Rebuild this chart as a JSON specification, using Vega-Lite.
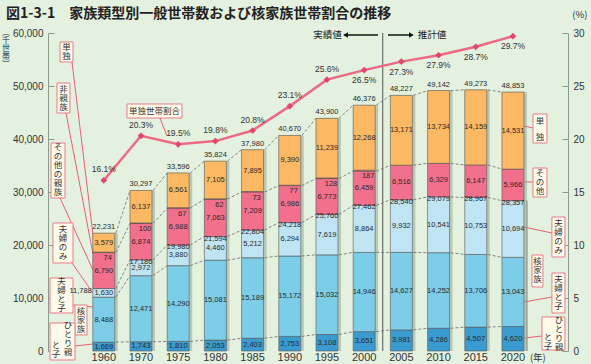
{
  "$schema": "https://vega.github.io/schema/vega-lite/v6.json",
  "width": 520,
  "height": 318,
  "autosize": {"type": "none"},
  "padding": {"left": 48, "top": 33, "right": 23, "bottom": 13},
  "background": "#e3f1de",
  "config": {"view": {"stroke": null}, "font": "Liberation Sans, Noto Sans CJK JP", "scale": {"continuousPadding": 0}},
  "title": {"text": "図1-3-1　家族類型別一般世帯数および核家族世帯割合の推移", "anchor": "start", "frame": "group", "dx": -42, "offset": -18, "baseline": "middle", "fontSize": 14, "fontWeight": "bold", "font": "Noto Sans CJK JP", "color": "#222"},
  "datasets": {
    "seg": [
      {"idx": 0, "type": "ひとり親と子", "ord": 1, "value": 1669},
      {"idx": 0, "type": "夫婦と子", "ord": 2, "value": 8488},
      {"idx": 0, "type": "夫婦のみ", "ord": 3, "value": 1630},
      {"idx": 0, "type": "その他の親族", "ord": 4, "value": 6790},
      {"idx": 0, "type": "非親族", "ord": 5, "value": 74},
      {"idx": 0, "type": "単独", "ord": 6, "value": 3579},
      {"idx": 1, "type": "ひとり親と子", "ord": 1, "value": 1743},
      {"idx": 1, "type": "夫婦と子", "ord": 2, "value": 12471},
      {"idx": 1, "type": "夫婦のみ", "ord": 3, "value": 2972},
      {"idx": 1, "type": "その他の親族", "ord": 4, "value": 6874},
      {"idx": 1, "type": "非親族", "ord": 5, "value": 100},
      {"idx": 1, "type": "単独", "ord": 6, "value": 6137},
      {"idx": 2, "type": "ひとり親と子", "ord": 1, "value": 1810},
      {"idx": 2, "type": "夫婦と子", "ord": 2, "value": 14290},
      {"idx": 2, "type": "夫婦のみ", "ord": 3, "value": 3880},
      {"idx": 2, "type": "その他の親族", "ord": 4, "value": 6988},
      {"idx": 2, "type": "非親族", "ord": 5, "value": 67},
      {"idx": 2, "type": "単独", "ord": 6, "value": 6561},
      {"idx": 3, "type": "ひとり親と子", "ord": 1, "value": 2053},
      {"idx": 3, "type": "夫婦と子", "ord": 2, "value": 15081},
      {"idx": 3, "type": "夫婦のみ", "ord": 3, "value": 4460},
      {"idx": 3, "type": "その他の親族", "ord": 4, "value": 7063},
      {"idx": 3, "type": "非親族", "ord": 5, "value": 62},
      {"idx": 3, "type": "単独", "ord": 6, "value": 7105},
      {"idx": 4, "type": "ひとり親と子", "ord": 1, "value": 2403},
      {"idx": 4, "type": "夫婦と子", "ord": 2, "value": 15189},
      {"idx": 4, "type": "夫婦のみ", "ord": 3, "value": 5212},
      {"idx": 4, "type": "その他の親族", "ord": 4, "value": 7209},
      {"idx": 4, "type": "非親族", "ord": 5, "value": 73},
      {"idx": 4, "type": "単独", "ord": 6, "value": 7895},
      {"idx": 5, "type": "ひとり親と子", "ord": 1, "value": 2753},
      {"idx": 5, "type": "夫婦と子", "ord": 2, "value": 15172},
      {"idx": 5, "type": "夫婦のみ", "ord": 3, "value": 6294},
      {"idx": 5, "type": "その他の親族", "ord": 4, "value": 6986},
      {"idx": 5, "type": "非親族", "ord": 5, "value": 77},
      {"idx": 5, "type": "単独", "ord": 6, "value": 9390},
      {"idx": 6, "type": "ひとり親と子", "ord": 1, "value": 3108},
      {"idx": 6, "type": "夫婦と子", "ord": 2, "value": 15032},
      {"idx": 6, "type": "夫婦のみ", "ord": 3, "value": 7619},
      {"idx": 6, "type": "その他の親族", "ord": 4, "value": 6773},
      {"idx": 6, "type": "非親族", "ord": 5, "value": 128},
      {"idx": 6, "type": "単独", "ord": 6, "value": 11239},
      {"idx": 7, "type": "ひとり親と子", "ord": 1, "value": 3651},
      {"idx": 7, "type": "夫婦と子", "ord": 2, "value": 14946},
      {"idx": 7, "type": "夫婦のみ", "ord": 3, "value": 8864},
      {"idx": 7, "type": "その他の親族", "ord": 4, "value": 6459},
      {"idx": 7, "type": "非親族", "ord": 5, "value": 187},
      {"idx": 7, "type": "単独", "ord": 6, "value": 12268},
      {"idx": 8, "type": "ひとり親と子", "ord": 1, "value": 3981},
      {"idx": 8, "type": "夫婦と子", "ord": 2, "value": 14627},
      {"idx": 8, "type": "夫婦のみ", "ord": 3, "value": 9932},
      {"idx": 8, "type": "その他の親族", "ord": 4, "value": 6516},
      {"idx": 8, "type": "単独", "ord": 6, "value": 13171},
      {"idx": 9, "type": "ひとり親と子", "ord": 1, "value": 4286},
      {"idx": 9, "type": "夫婦と子", "ord": 2, "value": 14252},
      {"idx": 9, "type": "夫婦のみ", "ord": 3, "value": 10541},
      {"idx": 9, "type": "その他の親族", "ord": 4, "value": 6329},
      {"idx": 9, "type": "単独", "ord": 6, "value": 13734},
      {"idx": 10, "type": "ひとり親と子", "ord": 1, "value": 4507},
      {"idx": 10, "type": "夫婦と子", "ord": 2, "value": 13706},
      {"idx": 10, "type": "夫婦のみ", "ord": 3, "value": 10753},
      {"idx": 10, "type": "その他の親族", "ord": 4, "value": 6147},
      {"idx": 10, "type": "単独", "ord": 6, "value": 14159},
      {"idx": 11, "type": "ひとり親と子", "ord": 1, "value": 4620},
      {"idx": 11, "type": "夫婦と子", "ord": 2, "value": 13043},
      {"idx": 11, "type": "夫婦のみ", "ord": 3, "value": 10694},
      {"idx": 11, "type": "その他の親族", "ord": 4, "value": 5966},
      {"idx": 11, "type": "単独", "ord": 6, "value": 14531}
    ],
    "tot": [
      {"idx": 0, "year": "1960", "total": 22231, "nuclear": 11788, "pct": 16.1, "lab": "above"},
      {"idx": 1, "year": "1970", "total": 30297, "nuclear": 17186, "pct": 20.3, "lab": "above"},
      {"idx": 2, "year": "1975", "total": 33596, "nuclear": 19980, "pct": 19.5, "lab": "above"},
      {"idx": 3, "year": "1980", "total": 35824, "nuclear": 21594, "pct": 19.8, "lab": "above"},
      {"idx": 4, "year": "1985", "total": 37980, "nuclear": 22804, "pct": 20.8, "lab": "above"},
      {"idx": 5, "year": "1990", "total": 40670, "nuclear": 24218, "pct": 23.1, "lab": "above"},
      {"idx": 6, "year": "1995", "total": 43900, "nuclear": 25760, "pct": 25.6, "lab": "above"},
      {"idx": 7, "year": "2000", "total": 46376, "nuclear": 27462, "pct": 26.5, "lab": "below"},
      {"idx": 8, "year": "2005", "total": 48227, "nuclear": 28540, "pct": 27.3, "lab": "below"},
      {"idx": 9, "year": "2010", "total": 49142, "nuclear": 29079, "pct": 27.9, "lab": "below"},
      {"idx": 10, "year": "2015", "total": 49273, "nuclear": 28967, "pct": 28.7, "lab": "below"},
      {"idx": 11, "year": "2020", "total": 48853, "nuclear": 28357, "pct": 29.7, "lab": "below"}
    ],
    "boxes": [
      {"idx": -1.177, "idx2": -0.828, "v": 58302, "v2": 54528},
      {"idx": -1.258, "idx2": -0.909, "v": 50566, "v2": 44906},
      {"idx": -1.419, "idx2": -1.043, "v": 39245, "v2": 28868},
      {"idx": -1.366, "idx2": -0.828, "v": 24151, "v2": 16604},
      {"idx": -1.446, "idx2": -0.828, "v": 13774, "v2": 7170},
      {"idx": -0.774, "idx2": -0.452, "v": 8679, "v2": 3019},
      {"idx": -1.446, "idx2": -0.774, "v": 5283, "v2": -1698},
      {"idx": 11.538, "idx2": 11.914, "v": 44717, "v2": 39245},
      {"idx": 11.538, "idx2": 11.914, "v": 34528, "v2": 29057},
      {"idx": 12.048, "idx2": 12.398, "v": 25283, "v2": 17736},
      {"idx": 11.511, "idx2": 11.806, "v": 18113, "v2": 12075},
      {"idx": 12.048, "idx2": 12.398, "v": 14717, "v2": 7170},
      {"idx": 11.78, "idx2": 12.398, "v": 6415, "v2": 189},
      {"idx": 0.624, "idx2": 2.102, "v": 46604, "v2": 43962}
    ],
    "anntext": [
      {"idx": -1.003, "v": 58113, "text": "単\n独"},
      {"idx": -1.083, "v": 50283, "text": "非\n親\n族"},
      {"idx": -1.231, "v": 39151, "text": "そ\nの\n他\nの\n親\n族"},
      {"idx": -1.097, "v": 23774, "text": "夫\n婦\nの\nみ"},
      {"idx": -1.137, "v": 13868, "text": "夫\n婦\nと\n子"},
      {"idx": -0.613, "v": 8396, "text": "核\n家\n族"},
      {"idx": -0.962, "v": 5660, "text": "ひ\nと\nり\n親"},
      {"idx": -1.285, "v": 1887, "text": "と\n子"},
      {"idx": 11.726, "v": 44245, "text": "単"},
      {"idx": 11.726, "v": 41226, "text": "独"},
      {"idx": 11.726, "v": 34340, "text": "そ\nの\n他"},
      {"idx": 12.223, "v": 24906, "text": "夫\n婦\nの\nみ"},
      {"idx": 11.659, "v": 17642, "text": "核\n家\n族"},
      {"idx": 12.223, "v": 14340, "text": "夫\n婦\nと\n子"},
      {"idx": 12.237, "v": 6698, "text": "ひ\nと\nり\n親"},
      {"idx": 11.941, "v": 3396, "text": "と\n子"},
      {"idx": 1.363, "v": 46132, "text": "単独世帯割合"}
    ],
    "leaders": [
      {"idx": -0.855, "idx2": -0.263, "v": 54528, "v2": 20377},
      {"idx": -1.016, "idx2": -0.29, "v": 44906, "v2": 18302},
      {"idx": -1.177, "idx2": -0.29, "v": 28868, "v2": 15283},
      {"idx": -0.855, "idx2": -0.29, "v": 16604, "v2": 10943},
      {"idx": -0.828, "idx2": -0.29, "v": 8679, "v2": 8302},
      {"idx": -0.774, "idx2": -0.29, "v": 943, "v2": 1321},
      {"idx": 11.296, "idx2": 11.538, "v": 42453, "v2": 42075},
      {"idx": 11.296, "idx2": 11.538, "v": 31887, "v2": 31887},
      {"idx": 11.296, "idx2": 12.048, "v": 23396, "v2": 22264},
      {"idx": 11.296, "idx2": 12.048, "v": 9245, "v2": 10189},
      {"idx": 11.296, "idx2": 11.78, "v": 2453, "v2": 2830},
      {"idx": 1.511, "idx2": 1.699, "v": 43962, "v2": 40566}
    ],
    "rules": [
      {"idx": 11.376, "v": 0, "v2": 28357, "kind": "bracket"},
      {"idx": 7.5, "v": 0, "v2": 60000, "kind": "divider"}
    ],
    "arrows": [
      {"idx": 7.371, "idx2": 6.47, "v": 59623},
      {"idx": 7.64, "idx2": 8.3, "v": 59623}
    ],
    "heads": [
      {"idx": 6.5, "v": 59623, "dir": "left"},
      {"idx": 8.27, "v": 59623, "dir": "right"}
    ],
    "notes": [
      {"idx": 6.4, "v": 59623, "text": "実績値", "side": "left"},
      {"idx": 8.44, "v": 59623, "text": "推計値", "side": "right"},
      {"idx": 12.8, "v": 63396, "text": "(%)", "side": "center"},
      {"idx": 11.67, "v": -1321, "text": "(年)", "side": "center"},
      {"idx": -2.63, "v": 60755, "text": "︵\n千\n世\n帯\n︶", "side": "vertical"}
    ]
  },
  "layer": [
    {
      "data": {"name": "rules"},
      "transform": [{"filter": "datum.kind === 'divider'"}],
      "mark": {"type": "rule", "color": "#555", "strokeWidth": 1},
      "encoding": {
        "x": {"field": "idx", "type": "quantitative", "scale": {"domain": [-1.5, 12.48], "nice": false, "zero": false, "padding": 0},
          "axis": {"values": [0, 11], "labels": false, "ticks": false, "domainColor": "#8c9c8c", "grid": false, "title": null}},
        "y": {"field": "v", "type": "quantitative", "scale": {"domain": [0, 60000], "nice": false, "zero": false, "padding": 0},
          "axis": {"values": [0, 10000, 20000, 30000, 40000, 50000, 60000], "format": ",d", "tickSize": -6, "labelPadding": 11, "labelFontSize": 10, "labelColor": "#333", "domainColor": "#8c9c8c", "tickColor": "#8c9c8c", "grid": false, "labelFlush": false, "title": null}},
        "y2": {"field": "v2"}
      }
    },
    {
      "data": {"name": "rules"},
      "transform": [{"filter": "datum.kind === 'bracket'"}],
      "mark": {"type": "rule", "color": "#777", "strokeWidth": 1},
      "encoding": {
        "x": {"field": "idx", "type": "quantitative", "scale": {"domain": [-1.5, 12.48], "nice": false, "zero": false, "padding": 0}, "axis": null},
        "y": {"field": "v", "type": "quantitative", "scale": {"domain": [0, 60000], "nice": false, "zero": false, "padding": 0}, "axis": null},
        "y2": {"field": "v2"}
      }
    },
    {
      "data": {"name": "arrows"},
      "mark": {"type": "rule", "color": "#111", "strokeWidth": 1.5},
      "encoding": {
        "x": {"field": "idx", "type": "quantitative", "scale": {"domain": [-1.5, 12.48], "nice": false, "zero": false, "padding": 0}, "axis": null},
        "x2": {"field": "idx2"},
        "y": {"field": "v", "type": "quantitative", "scale": {"domain": [0, 60000], "nice": false, "zero": false, "padding": 0}, "axis": null}
      }
    },
    {
      "data": {"name": "heads"},
      "transform": [{"filter": "datum.dir === 'left'"}],
      "mark": {"type": "point", "shape": "triangle-left", "filled": true, "size": 30, "color": "#111", "opacity": 1},
      "encoding": {
        "x": {"field": "idx", "type": "quantitative", "scale": {"domain": [-1.5, 12.48], "nice": false, "zero": false, "padding": 0}, "axis": null},
        "y": {"field": "v", "type": "quantitative", "scale": {"domain": [0, 60000], "nice": false, "zero": false, "padding": 0}, "axis": null}
      }
    },
    {
      "data": {"name": "heads"},
      "transform": [{"filter": "datum.dir === 'right'"}],
      "mark": {"type": "point", "shape": "triangle-right", "filled": true, "size": 30, "color": "#111", "opacity": 1},
      "encoding": {
        "x": {"field": "idx", "type": "quantitative", "scale": {"domain": [-1.5, 12.48], "nice": false, "zero": false, "padding": 0}, "axis": null},
        "y": {"field": "v", "type": "quantitative", "scale": {"domain": [0, 60000], "nice": false, "zero": false, "padding": 0}, "axis": null}
      }
    },
    {
      "data": {"name": "notes"},
      "transform": [{"filter": "datum.side === 'left'"}],
      "mark": {"type": "text", "align": "right", "baseline": "middle", "fontSize": 9.5, "font": "Noto Sans CJK JP", "color": "#222"},
      "encoding": {
        "x": {"field": "idx", "type": "quantitative", "scale": {"domain": [-1.5, 12.48], "nice": false, "zero": false, "padding": 0}, "axis": null},
        "y": {"field": "v", "type": "quantitative", "scale": {"domain": [0, 60000], "nice": false, "zero": false, "padding": 0}, "axis": null},
        "text": {"field": "text"}
      }
    },
    {
      "data": {"name": "notes"},
      "transform": [{"filter": "datum.side === 'right'"}],
      "mark": {"type": "text", "align": "left", "baseline": "middle", "fontSize": 9.5, "font": "Noto Sans CJK JP", "color": "#222"},
      "encoding": {
        "x": {"field": "idx", "type": "quantitative", "scale": {"domain": [-1.5, 12.48], "nice": false, "zero": false, "padding": 0}, "axis": null},
        "y": {"field": "v", "type": "quantitative", "scale": {"domain": [0, 60000], "nice": false, "zero": false, "padding": 0}, "axis": null},
        "text": {"field": "text"}
      }
    },
    {
      "data": {"name": "notes"},
      "transform": [{"filter": "datum.side === 'center'"}],
      "mark": {"type": "text", "align": "center", "baseline": "middle", "fontSize": 9.5, "font": "Noto Sans CJK JP", "color": "#333"},
      "encoding": {
        "x": {"field": "idx", "type": "quantitative", "scale": {"domain": [-1.5, 12.48], "nice": false, "zero": false, "padding": 0}, "axis": null},
        "y": {"field": "v", "type": "quantitative", "scale": {"domain": [0, 60000], "nice": false, "zero": false, "padding": 0}, "axis": null},
        "text": {"field": "text"}
      }
    },
    {
      "data": {"name": "notes"},
      "transform": [{"filter": "datum.side === 'vertical'"}],
      "mark": {"type": "text", "align": "center", "baseline": "top", "fontSize": 8, "lineBreak": "\n", "lineHeight": 8, "font": "Noto Sans CJK JP", "color": "#333"},
      "encoding": {
        "x": {"field": "idx", "type": "quantitative", "scale": {"domain": [-1.5, 12.48], "nice": false, "zero": false, "padding": 0}, "axis": null},
        "y": {"field": "v", "type": "quantitative", "scale": {"domain": [0, 60000], "nice": false, "zero": false, "padding": 0}, "axis": null},
        "text": {"field": "text"}
      }
    },
    {
      "data": {"name": "leaders"},
      "mark": {"type": "rule", "color": "#e8607a", "strokeWidth": 1},
      "encoding": {
        "x": {"field": "idx", "type": "quantitative", "scale": {"domain": [-1.5, 12.48], "nice": false, "zero": false, "padding": 0}, "axis": null},
        "x2": {"field": "idx2"},
        "y": {"field": "v", "type": "quantitative", "scale": {"domain": [0, 60000], "nice": false, "zero": false, "padding": 0}, "axis": null},
        "y2": {"field": "v2"}
      }
    },
    {
      "data": {"name": "boxes"},
      "mark": {"type": "rect", "fill": "#fffbea", "stroke": "#e97b8d", "strokeWidth": 1},
      "encoding": {
        "x": {"field": "idx", "type": "quantitative", "scale": {"domain": [-1.5, 12.48], "nice": false, "zero": false, "padding": 0}, "axis": null},
        "x2": {"field": "idx2"},
        "y": {"field": "v", "type": "quantitative", "scale": {"domain": [0, 60000], "nice": false, "zero": false, "padding": 0}, "axis": null},
        "y2": {"field": "v2"}
      }
    },
    {
      "data": {"name": "anntext"},
      "mark": {"type": "text", "lineBreak": "\n", "lineHeight": 9, "fontSize": 8.5, "font": "Noto Sans CJK JP", "color": "#333", "align": "center", "baseline": "top"},
      "encoding": {
        "x": {"field": "idx", "type": "quantitative", "scale": {"domain": [-1.5, 12.48], "nice": false, "zero": false, "padding": 0}, "axis": null},
        "y": {"field": "v", "type": "quantitative", "scale": {"domain": [0, 60000], "nice": false, "zero": false, "padding": 0}, "axis": null},
        "text": {"field": "text"}
      }
    },
    {
      "data": {"name": "tot"},
      "mark": {"type": "bar", "orient": "vertical", "width": 22, "xOffset": 3, "color": "#8fa08f", "opacity": 0.5},
      "encoding": {
        "x": {"field": "idx", "type": "quantitative", "scale": {"domain": [-1.5, 12.48], "nice": false, "zero": false, "padding": 0}, "axis": null},
        "y": {"field": "total", "type": "quantitative", "scale": {"domain": [0, 60000], "nice": false, "zero": false, "padding": 0}, "axis": null, "stack": null},
        "y2": {"datum": 0}
      }
    },
    {
      "data": {"name": "seg"},
      "transform": [{"stack": "value", "groupby": ["idx"], "sort": [{"field": "ord"}], "as": ["v0", "v1"]}],
      "mark": {"type": "bar", "orient": "vertical", "width": 22, "stroke": "#555", "strokeWidth": 0.6},
      "encoding": {
        "x": {"field": "idx", "type": "quantitative", "scale": {"domain": [-1.5, 12.48], "nice": false, "zero": false, "padding": 0}, "axis": null},
        "y": {"field": "v1", "type": "quantitative", "scale": {"domain": [0, 60000], "nice": false, "zero": false, "padding": 0}, "axis": null, "stack": null},
        "y2": {"field": "v0"},
        "color": {"field": "type", "type": "nominal", "legend": null,
          "scale": {"domain": ["ひとり親と子", "夫婦と子", "夫婦のみ", "その他の親族", "非親族", "単独"], "range": ["#3a9bd0", "#7ccde8", "#bfe4f4", "#f2708c", "#f2708c", "#fdb863"]}}
      }
    },
    {
      "data": {"name": "seg"},
      "transform": [
        {"stack": "value", "groupby": ["idx"], "sort": [{"field": "ord"}], "as": ["v0", "v1"]},
        {"filter": "datum.type !== '非親族'"},
        {"window": [{"op": "lead", "field": "v1", "as": "nv1"}, {"op": "lead", "field": "idx", "as": "nidx"}], "groupby": ["type"], "sort": [{"field": "idx"}]},
        {"filter": "isValid(datum.nidx)"}
      ],
      "mark": {"type": "rule", "strokeDash": [3, 2], "color": "#6b6b6b", "strokeWidth": 0.8, "xOffset": 12, "x2Offset": -11},
      "encoding": {
        "x": {"field": "idx", "type": "quantitative", "scale": {"domain": [-1.5, 12.48], "nice": false, "zero": false, "padding": 0}, "axis": null},
        "x2": {"field": "nidx"},
        "y": {"field": "v1", "type": "quantitative", "scale": {"domain": [0, 60000], "nice": false, "zero": false, "padding": 0}, "axis": null},
        "y2": {"field": "nv1"}
      }
    },
    {
      "data": {"name": "seg"},
      "transform": [
        {"stack": "value", "groupby": ["idx"], "sort": [{"field": "ord"}], "as": ["v0", "v1"]},
        {"filter": "datum.type !== '非親族'"},
        {"fold": ["v0", "v1"], "as": ["k", "pos"]},
        {"aggregate": [{"op": "mean", "field": "pos", "as": "mid"}], "groupby": ["idx", "type", "value"]}
      ],
      "mark": {"type": "text", "fontSize": 7.5, "color": "#2a2a2a", "baseline": "middle"},
      "encoding": {
        "x": {"field": "idx", "type": "quantitative", "scale": {"domain": [-1.5, 12.48], "nice": false, "zero": false, "padding": 0}, "axis": null},
        "y": {"field": "mid", "type": "quantitative", "scale": {"domain": [0, 60000], "nice": false, "zero": false, "padding": 0}, "axis": null},
        "text": {"field": "value", "type": "quantitative", "format": ",d"}
      }
    },
    {
      "data": {"name": "seg"},
      "transform": [
        {"stack": "value", "groupby": ["idx"], "sort": [{"field": "ord"}], "as": ["v0", "v1"]},
        {"filter": "datum.type === '非親族'"}
      ],
      "mark": {"type": "text", "fontSize": 7.5, "color": "#2a2a2a", "baseline": "middle", "dy": 6, "dx": 4},
      "encoding": {
        "x": {"field": "idx", "type": "quantitative", "scale": {"domain": [-1.5, 12.48], "nice": false, "zero": false, "padding": 0}, "axis": null},
        "y": {"field": "v1", "type": "quantitative", "scale": {"domain": [0, 60000], "nice": false, "zero": false, "padding": 0}, "axis": null},
        "text": {"field": "value", "type": "quantitative", "format": ",d"}
      }
    },
    {
      "data": {"name": "tot"},
      "mark": {"type": "text", "fontSize": 7.5, "color": "#2a2a2a", "baseline": "bottom", "dy": -2},
      "encoding": {
        "x": {"field": "idx", "type": "quantitative", "scale": {"domain": [-1.5, 12.48], "nice": false, "zero": false, "padding": 0}, "axis": null},
        "y": {"field": "total", "type": "quantitative", "scale": {"domain": [0, 60000], "nice": false, "zero": false, "padding": 0}, "axis": null},
        "text": {"field": "total", "type": "quantitative", "format": ",d"}
      }
    },
    {
      "data": {"name": "tot"},
      "mark": {"type": "text", "fontSize": 11, "color": "#333", "baseline": "middle", "dy": 7},
      "encoding": {
        "x": {"field": "idx", "type": "quantitative", "scale": {"domain": [-1.5, 12.48], "nice": false, "zero": false, "padding": 0}, "axis": null},
        "y": {"datum": 0, "type": "quantitative", "scale": {"domain": [0, 60000], "nice": false, "zero": false, "padding": 0}, "axis": null},
        "text": {"field": "year"}
      }
    },
    {
      "data": {"name": "tot"},
      "transform": [{"filter": "datum.idx > 0"}],
      "mark": {"type": "text", "fontSize": 7.5, "color": "#2a2a2a", "baseline": "middle", "dy": 2},
      "encoding": {
        "x": {"field": "idx", "type": "quantitative", "scale": {"domain": [-1.5, 12.48], "nice": false, "zero": false, "padding": 0}, "axis": null},
        "y": {"field": "nuclear", "type": "quantitative", "scale": {"domain": [0, 60000], "nice": false, "zero": false, "padding": 0}, "axis": null},
        "text": {"field": "nuclear", "type": "quantitative", "format": ",d"}
      }
    },
    {
      "data": {"name": "tot"},
      "transform": [{"filter": "datum.idx === 0"}],
      "mark": {"type": "text", "fontSize": 7.5, "color": "#2a2a2a", "baseline": "middle", "align": "right", "dy": 2, "dx": -12},
      "encoding": {
        "x": {"field": "idx", "type": "quantitative", "scale": {"domain": [-1.5, 12.48], "nice": false, "zero": false, "padding": 0}, "axis": null},
        "y": {"field": "nuclear", "type": "quantitative", "scale": {"domain": [0, 60000], "nice": false, "zero": false, "padding": 0}, "axis": null},
        "text": {"field": "nuclear", "type": "quantitative", "format": ",d"}
      }
    },
    {
      "data": {"name": "tot"},
      "mark": {"type": "line", "color": "#ec6a86", "strokeWidth": 2.5},
      "encoding": {
        "x": {"field": "idx", "type": "quantitative", "scale": {"domain": [-1.5, 12.48], "nice": false, "zero": false, "padding": 0}, "axis": null},
        "y": {"field": "pct", "type": "quantitative", "scale": {"domain": [0, 30], "nice": false, "zero": false, "padding": 0},
          "axis": {"orient": "right", "values": [0, 5, 10, 15, 20, 25, 30], "tickSize": -6, "labelPadding": 11, "labelFontSize": 10, "labelColor": "#333", "domainColor": "#8c9c8c", "tickColor": "#8c9c8c", "grid": false, "labelFlush": false, "title": null}}
      }
    },
    {
      "data": {"name": "tot"},
      "mark": {"type": "point", "shape": "diamond", "filled": true, "size": 45, "color": "#e2476b", "opacity": 1},
      "encoding": {
        "x": {"field": "idx", "type": "quantitative", "scale": {"domain": [-1.5, 12.48], "nice": false, "zero": false, "padding": 0}, "axis": null},
        "y": {"field": "pct", "type": "quantitative", "scale": {"domain": [0, 30], "nice": false, "zero": false, "padding": 0}, "axis": null}
      }
    },
    {
      "data": {"name": "tot"},
      "transform": [{"filter": "datum.lab === 'above'"}, {"calculate": "format(datum.pct, '.1f') + '%'", "as": "plabel"}],
      "mark": {"type": "text", "fontSize": 8.5, "color": "#333", "baseline": "middle", "dy": -11},
      "encoding": {
        "x": {"field": "idx", "type": "quantitative", "scale": {"domain": [-1.5, 12.48], "nice": false, "zero": false, "padding": 0}, "axis": null},
        "y": {"field": "pct", "type": "quantitative", "scale": {"domain": [0, 30], "nice": false, "zero": false, "padding": 0}, "axis": null},
        "text": {"field": "plabel"}
      }
    },
    {
      "data": {"name": "tot"},
      "transform": [{"filter": "datum.lab === 'below'"}, {"calculate": "format(datum.pct, '.1f') + '%'", "as": "plabel"}],
      "mark": {"type": "text", "fontSize": 8.5, "color": "#333", "baseline": "middle", "dy": 10},
      "encoding": {
        "x": {"field": "idx", "type": "quantitative", "scale": {"domain": [-1.5, 12.48], "nice": false, "zero": false, "padding": 0}, "axis": null},
        "y": {"field": "pct", "type": "quantitative", "scale": {"domain": [0, 30], "nice": false, "zero": false, "padding": 0}, "axis": null},
        "text": {"field": "plabel"}
      }
    }
  ],
  "resolve": {"scale": {"y": "independent"}}
}
